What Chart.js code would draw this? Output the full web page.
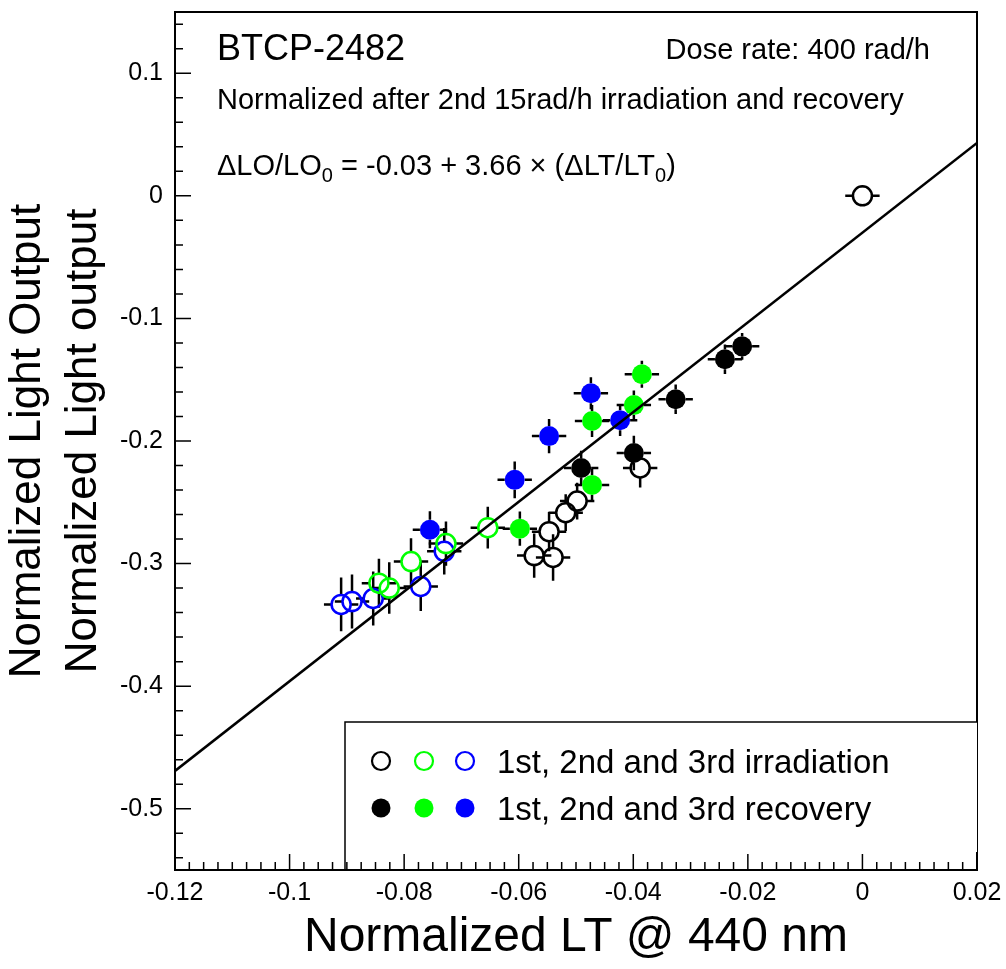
<!DOCTYPE html>
<html>
<head>
<meta charset="utf-8">
<script src="https://cdn.jsdelivr.net/npm/chart.js@4.4.1/dist/chart.umd.min.js"></script>
<style>body{margin:0;background:#fff}</style>
</head>
<body>
<canvas id="c" width="1006" height="969"></canvas>
<script>
// open markers = irradiation, filled = recovery; 1st black, 2nd green, 3rd blue
const irr1X = [0, -0.0388, -0.0498, -0.0518, -0.0547, -0.0573, -0.0540];
const irr1Y = [0, -0.222, -0.249, -0.2585, -0.274, -0.2935, -0.295];
const irr1E = [0.007, 0.016, 0.015, 0.015, 0.016, 0.018, 0.019];

const rec1X = [-0.0210, -0.0240, -0.0326, -0.0399, -0.0491];
const rec1Y = [-0.1228, -0.1333, -0.1659, -0.2098, -0.222];
const rec1E = [0.011, 0.012, 0.012, 0.014, 0.014];

const irr2X = [-0.0654, -0.0727, -0.0788, -0.0844, -0.0826];
const irr2Y = [-0.2707, -0.2837, -0.2984, -0.316, -0.320];
const irr2E = [0.017, 0.018, 0.019, 0.020, 0.021];

const rec2X = [-0.0385, -0.0399, -0.0472, -0.0472, -0.0598];
const rec2Y = [-0.1455, -0.1707, -0.1837, -0.2358, -0.2715];
const rec2E = [0.011, 0.012, 0.013, 0.013, 0.014];

const irr3X = [-0.0730, -0.0771, -0.0854, -0.0891, -0.0910];
const irr3Y = [-0.290, -0.3187, -0.3285, -0.331, -0.3333];
const irr3E = [0.019, 0.020, 0.022, 0.022, 0.022];

const rec3X = [-0.0474, -0.0547, -0.0423, -0.0607, -0.0755];
const rec3Y = [-0.161, -0.196, -0.183, -0.2317, -0.2724];
const rec3E = [0.013, 0.014, 0.013, 0.015, 0.015];

const xErr = 0.003;
const fitIntercept = -0.03;
const fitSlope = 3.66;
const xMin = -0.12, xMax = 0.02;
const yMin = -0.55, yMax = 0.15;
const xTicks = [-0.12, -0.1, -0.08, -0.06, -0.04, -0.02, 0, 0.02];
const yTicks = [-0.5, -0.4, -0.3, -0.2, -0.1, 0, 0.1];

const FONT = "'Liberation Sans', Arial, sans-serif";
Chart.defaults.font.family = FONT;
Chart.defaults.color = '#000';

function pts(xs, ys, es) {
  return xs.map((x, i) => ({ x: x, y: ys[i], ey: es[i] }));
}
function openSet(label, xs, ys, es, color) {
  return { label, data: pts(xs, ys, es), pointRadius: 9.5, pointHoverRadius: 9.5,
    pointBorderWidth: 2.5, borderColor: color, pointBackgroundColor: 'rgba(0,0,0,0)', order: 1 };
}
function filledSet(label, xs, ys, es, color) {
  return { label, data: pts(xs, ys, es), pointRadius: 10, pointHoverRadius: 10,
    pointBorderWidth: 0, borderColor: color, pointBackgroundColor: color, order: 1 };
}
const fitLine = (x) => fitIntercept + fitSlope * x;

const errorBars = {
  id: 'errorBars',
  beforeDatasetsDraw(chart) {
    const { ctx, scales: { x, y } } = chart;
    ctx.save();
    ctx.strokeStyle = '#000';
    ctx.lineWidth = 2.5;
    chart.data.datasets.forEach((ds, di) => {
      if (ds.type === 'line') return;
      const meta = chart.getDatasetMeta(di);
      meta.data.forEach((pt, i) => {
        const d = ds.data[i];
        const r = ds.pointRadius;
        const px = pt.x, py = pt.y;
        const x0 = x.getPixelForValue(d.x - xErr), x1 = x.getPixelForValue(d.x + xErr);
        const y0 = y.getPixelForValue(d.y + d.ey), y1 = y.getPixelForValue(d.y - d.ey);
        ctx.beginPath();
        ctx.moveTo(x0, py); ctx.lineTo(px - r, py);
        ctx.moveTo(px + r, py); ctx.lineTo(x1, py);
        ctx.moveTo(px, y0); ctx.lineTo(px, py - r);
        ctx.moveTo(px, py + r); ctx.lineTo(px, y1);
        ctx.stroke();
      });
    });
    ctx.restore();
  }
};

function drawSub(ctx, parts, x, y) {
  parts.forEach(p => {
    ctx.font = (p.sub ? '20px ' : '29px ') + FONT;
    ctx.fillText(p.t, x, y + (p.sub ? 7 : 0));
    x += ctx.measureText(p.t).width;
  });
}

const frame = {
  id: 'frame',
  afterDraw(chart) {
    const { ctx, chartArea: a, scales: { x, y } } = chart;
    ctx.save();
    ctx.strokeStyle = '#000';
    // ticks inside the frame
    ctx.lineWidth = 1.5;
    ctx.beginPath();
    const xs = x.ticks.map(t => t.value);
    const xStep = xs[1] - xs[0];
    for (let v = xs[0] - xStep; v <= xMax + 1e-9; v += xStep / 8) {
      if (v < xMin - 1e-9) continue;
      const k = Math.round((v - xs[0]) / (xStep / 8));
      const len = (k % 8 === 0) ? 16 : 8;
      const px = x.getPixelForValue(v);
      ctx.moveTo(px, a.bottom); ctx.lineTo(px, a.bottom - len);
    }
    const ys = y.ticks.map(t => t.value);
    const yStep = ys[1] - ys[0];
    for (let v = ys[0] - yStep; v <= yMax + 1e-9; v += yStep / 5) {
      if (v < yMin - 1e-9) continue;
      const k = Math.round((v - ys[0]) / (yStep / 5));
      const len = (k % 5 === 0) ? 16 : 8;
      const py = y.getPixelForValue(v);
      ctx.moveTo(a.left, py); ctx.lineTo(a.left + len, py);
    }
    ctx.stroke();
    ctx.lineWidth = 2;
    ctx.strokeRect(a.left, a.top, a.right - a.left, a.bottom - a.top);

    // legend box
    const bx = 345, by = 722;
    ctx.fillStyle = '#fff';
    ctx.fillRect(bx, by, a.right - bx, a.bottom - by - 18);
    ctx.lineWidth = 1.5;
    ctx.beginPath();
    ctx.moveTo(bx, a.bottom); ctx.lineTo(bx, by); ctx.lineTo(a.right, by);
    ctx.stroke();
    const cols = ['#000', '#00ff00', '#0000ff'];
    const mx = [381, 424, 465];
    mx.forEach((cx, i) => {
      ctx.beginPath(); ctx.arc(cx, 761, 9, 0, Math.PI * 2);
      ctx.strokeStyle = cols[i]; ctx.lineWidth = 2.2; ctx.stroke();
      ctx.beginPath(); ctx.arc(cx, 808, 9.5, 0, Math.PI * 2);
      ctx.fillStyle = cols[i]; ctx.fill();
    });
    ctx.fillStyle = '#000';
    ctx.textBaseline = 'alphabetic';
    ctx.font = '33px ' + FONT;
    ctx.fillText('1st, 2nd and 3rd irradiation', 497, 773);
    ctx.fillText('1st, 2nd and 3rd recovery', 497, 820);

    // annotations
    ctx.font = '36px ' + FONT;
    ctx.fillText('BTCP-2482', 217, 60);
    ctx.font = '29px ' + FONT;
    ctx.textAlign = 'right';
    ctx.fillText('Dose rate: 400 rad/h', 930, 59);
    ctx.textAlign = 'left';
    ctx.fillText('Normalized after 2nd 15rad/h irradiation and recovery', 217, 109);
    drawSub(ctx, [
      { t: '\u0394LO/LO' }, { t: '0', sub: true },
      { t: ' = ' + fitIntercept + ' + ' + fitSlope + ' \u00d7 (\u0394LT/LT' }, { t: '0', sub: true }, { t: ')' }
    ], 217, 175);
    ctx.restore();
  }
};

new Chart(document.getElementById('c'), {
  type: 'scatter',
  data: {
    datasets: [
      { type: 'line', label: 'fit', data: [{ x: xMin, y: fitLine(xMin) }, { x: xMax, y: fitLine(xMax) }],
        borderColor: '#000', borderWidth: 2.5, pointRadius: 0, order: 0 },
      openSet('1st irradiation', irr1X, irr1Y, irr1E, '#000'),
      filledSet('1st recovery', rec1X, rec1Y, rec1E, '#000'),
      openSet('2nd irradiation', irr2X, irr2Y, irr2E, '#00ff00'),
      filledSet('2nd recovery', rec2X, rec2Y, rec2E, '#00ff00'),
      openSet('3rd irradiation', irr3X, irr3Y, irr3E, '#0000ff'),
      filledSet('3rd recovery', rec3X, rec3Y, rec3E, '#0000ff')
    ]
  },
  options: {
    responsive: false,
    animation: false,
    layout: { padding: { top: 10, right: 29, left: 0, bottom: 0 } },
    plugins: { legend: { display: false }, tooltip: { enabled: false } },
    scales: {
      x: {
        type: 'linear', min: xMin, max: xMax,
        grid: { display: false, drawTicks: false },
        border: { display: false },
        ticks: { padding: 8, font: { size: 25 }, callback: v => String(+v.toFixed(3)) },
        afterBuildTicks(s) { s.ticks = xTicks.map(v => ({ value: v })); },
        title: { display: true, text: 'Normalized LT @ 440 nm', font: { size: 48 }, padding: { top: 0, bottom: 2 } },
        afterFit(s) { s.height = 99; s.paddingLeft = 0; s.paddingRight = 0; }
      },
      y: {
        type: 'linear', min: yMin, max: yMax,
        grid: { display: false, drawTicks: false },
        border: { display: false },
        ticks: { padding: 12, font: { size: 25 }, callback: v => String(+v.toFixed(3)) },
        afterBuildTicks(s) { s.ticks = yTicks.map(v => ({ value: v })); },
        title: { display: true, text: ['Normalized Light Output', 'Normalized Light output'],
          font: { size: 44, lineHeight: 1.27 }, padding: { top: 0, bottom: 0 } },
        afterFit(s) { s.width = 175; s.paddingTop = 0; s.paddingBottom = 0; }
      }
    }
  },
  plugins: [errorBars, frame]
});
</script>
</body>
</html>
